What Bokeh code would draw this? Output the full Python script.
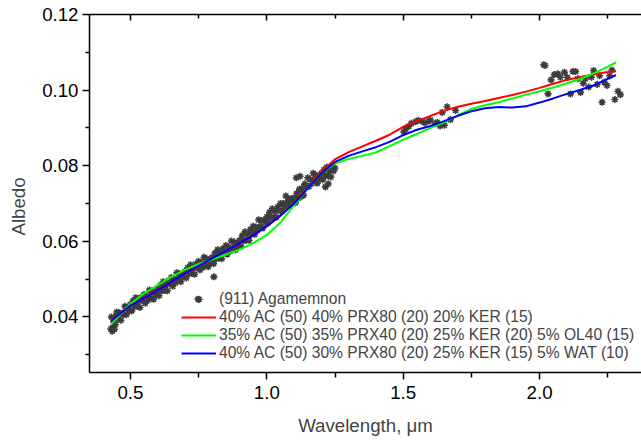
from bokeh.plotting import figure
from bokeh.models import Range1d, LinearAxis, Legend, LegendItem, FixedTicker, NumeralTickFormatter
from bokeh.embed import file_html
from bokeh.resources import INLINE

FONT = "Liberation Sans"

# (911) Agamemnon measured spectrum
agam_wl = [
    0.430, 0.435, 0.440, 0.445,
    0.450, 0.455, 0.460, 0.465, 0.470, 0.475, 0.480, 0.485, 0.490, 0.495,
    0.500, 0.505, 0.510, 0.515, 0.520, 0.525, 0.530, 0.535, 0.540, 0.545,
    0.550, 0.555, 0.560, 0.565, 0.570, 0.575, 0.580, 0.585, 0.590, 0.595,
    0.600, 0.605, 0.610, 0.615, 0.620, 0.625, 0.630, 0.635, 0.640, 0.645,
    0.650, 0.655, 0.660, 0.665, 0.670, 0.675, 0.680, 0.685, 0.690, 0.695,
    0.700, 0.705, 0.710, 0.715, 0.720, 0.725, 0.730, 0.735, 0.740, 0.745,
    0.750, 0.755, 0.760, 0.765, 0.770, 0.775, 0.780, 0.785, 0.790, 0.795,
    0.800, 0.805, 0.810, 0.815, 0.820, 0.825, 0.830, 0.835, 0.840, 0.845,
    0.850, 0.855, 0.860, 0.865, 0.870, 0.875, 0.880, 0.885, 0.890, 0.895,
    0.900, 0.905, 0.910, 0.915, 0.920, 0.925, 0.930, 0.935, 0.940, 0.945,
    0.950, 0.955, 0.960, 0.965, 0.970, 0.975, 0.980, 0.985, 0.990, 0.995,
    1.000, 1.005, 1.010, 1.015, 1.020, 1.025, 1.030, 1.035, 1.040, 1.045,
    1.050, 1.055, 1.060, 1.065, 1.070, 1.075, 1.080, 1.085, 1.090, 1.095,
    1.100, 1.105, 1.110, 1.115, 1.120, 1.125, 1.130, 1.135, 1.140, 1.145,
    1.150, 1.155, 1.160, 1.165, 1.170, 1.175, 1.180, 1.185, 1.190, 1.195,
    1.200, 1.205, 1.210, 1.215, 1.220, 1.225, 1.230, 1.235, 1.240, 1.245, 1.250,
    0.428, 0.433, 0.438, 0.441, 0.447, 0.748, 0.806, 1.108, 1.122, 1.135, 1.215, 1.225,
    1.502, 1.510, 1.520, 1.530, 1.545, 1.555, 1.570, 1.580, 1.594, 1.600,
    1.618, 1.625, 1.635, 1.643, 1.651, 1.661, 1.673, 1.692,
    2.015, 2.020, 2.031, 2.042, 2.054, 2.067, 2.076, 2.091, 2.101, 2.113,
    2.122, 2.132, 2.140, 2.150, 2.160, 2.168, 2.180, 2.190, 2.198, 2.211,
    2.220, 2.229, 2.237, 2.247, 2.257, 2.265, 2.276, 2.287, 2.296,
]
agam_alb = [
    0.0400, 0.0372, 0.0397, 0.0380,
    0.0413, 0.0395, 0.0411, 0.0391, 0.0410, 0.0406, 0.0428, 0.0406, 0.0426, 0.0416,
    0.0433, 0.0416, 0.0443, 0.0428, 0.0451, 0.0428, 0.0442, 0.0425, 0.0452, 0.0442,
    0.0459, 0.0436, 0.0455, 0.0444, 0.0471, 0.0453, 0.0468, 0.0447, 0.0465, 0.0459,
    0.0473, 0.0456, 0.0484, 0.0469, 0.0493, 0.0470, 0.0484, 0.0469, 0.0496, 0.0487,
    0.0504, 0.0481, 0.0501, 0.0490, 0.0517, 0.0499, 0.0514, 0.0493, 0.0512, 0.0506,
    0.0520, 0.0503, 0.0530, 0.0515, 0.0538, 0.0515, 0.0529, 0.0513, 0.0540, 0.0530,
    0.0547, 0.0524, 0.0543, 0.0531, 0.0558, 0.0539, 0.0554, 0.0533, 0.0550, 0.0544,
    0.0558, 0.0541, 0.0569, 0.0554, 0.0578, 0.0555, 0.0569, 0.0554, 0.0581, 0.0572,
    0.0589, 0.0566, 0.0585, 0.0574, 0.0601, 0.0583, 0.0598, 0.0577, 0.0595, 0.0589,
    0.0603, 0.0587, 0.0615, 0.0601, 0.0625, 0.0603, 0.0618, 0.0603, 0.0631, 0.0622,
    0.0640, 0.0618, 0.0638, 0.0629, 0.0657, 0.0639, 0.0655, 0.0635, 0.0655, 0.0650,
    0.0665, 0.0649, 0.0677, 0.0662, 0.0686, 0.0664, 0.0679, 0.0664, 0.0691, 0.0682,
    0.0700, 0.0679, 0.0700, 0.0691, 0.0720, 0.0703, 0.0712, 0.0694, 0.0713, 0.0706,
    0.0715, 0.0702, 0.0727, 0.0714, 0.0738, 0.0718, 0.0735, 0.0722, 0.0752, 0.0745,
    0.0768, 0.0745, 0.0764, 0.0753, 0.0780, 0.0761, 0.0775, 0.0754, 0.0772, 0.0766,
    0.0780, 0.0763, 0.0789, 0.0774, 0.0796, 0.0773, 0.0786, 0.0770, 0.0796, 0.0786, 0.0794,
    0.0368, 0.0362, 0.0388, 0.0367, 0.0403, 0.0447, 0.0506, 0.0768, 0.0772, 0.0745, 0.0744, 0.0752,
    0.0889, 0.0897, 0.0904, 0.0912, 0.0916, 0.0920, 0.0917, 0.0913, 0.0918, 0.0921,
    0.0911, 0.0915, 0.0905, 0.0941, 0.0907, 0.0956, 0.0922, 0.0946,
    0.1067, 0.1065, 0.0990, 0.1027, 0.1041, 0.1043, 0.1034, 0.1047, 0.1034, 0.0990,
    0.1049, 0.1049, 0.1030, 0.0994, 0.1018, 0.1030, 0.1008, 0.1034, 0.1052, 0.1015,
    0.1038, 0.0968, 0.1021, 0.1012, 0.1038, 0.1053, 0.0975, 0.0997, 0.0988,
]

# Model spectra
model_wl = [0.43, 0.50, 0.55, 0.60, 0.65, 0.70, 0.75, 0.80, 0.85, 0.90, 0.95,
            1.00, 1.05, 1.10, 1.15, 1.20, 1.25, 1.30, 1.35, 1.40, 1.45, 1.50,
            1.55, 1.60, 1.65, 1.70, 1.75, 1.80, 1.85, 1.90, 1.95, 2.00, 2.05,
            2.10, 2.15, 2.20, 2.25, 2.28]
red_alb = [0.0392, 0.0430, 0.0451, 0.0472, 0.0494, 0.0515, 0.0534, 0.0553, 0.0574, 0.0595, 0.0617,
           0.0640, 0.0668, 0.0700, 0.0742, 0.0785, 0.0817, 0.0836, 0.0851, 0.0866, 0.0882, 0.0903,
           0.0918, 0.0932, 0.0945, 0.0956, 0.0964, 0.0971, 0.0979, 0.0987, 0.0996, 0.1006, 0.1017,
           0.1027, 0.1035, 0.1042, 0.1048, 0.1050]
green_alb = [0.0381, 0.0435, 0.0462, 0.0484, 0.0506, 0.0525, 0.0540, 0.0552, 0.0565, 0.0578, 0.0595,
             0.0617, 0.0650, 0.0695, 0.0740, 0.0780, 0.0806, 0.0818, 0.0826, 0.0835, 0.0852, 0.0869,
             0.0884, 0.0900, 0.0915, 0.0933, 0.0950, 0.0960, 0.0968, 0.0978, 0.0988, 0.0997, 0.1007,
             0.1018, 0.1030, 0.1045, 0.1062, 0.1073]
blue_alb = [0.0390, 0.0430, 0.0450, 0.0471, 0.0493, 0.0515, 0.0535, 0.0555, 0.0575, 0.0595, 0.0616,
            0.0640, 0.0668, 0.0700, 0.0740, 0.0780, 0.0810, 0.0826, 0.0838, 0.0849, 0.0863, 0.0881,
            0.0895, 0.0905, 0.0918, 0.0932, 0.0944, 0.0952, 0.0955, 0.0954, 0.0957, 0.0967, 0.0978,
            0.0990, 0.1001, 0.1013, 0.1030, 0.1040]

labels = ["(911) Agamemnon",
          "40% AC (50) 40% PRX80 (20) 20% KER (15)",
          "35% AC (50) 35% PRX40 (20) 25% KER (20) 5% OL40 (15)",
          "40% AC (50) 30% PRX80 (20) 25% KER (15) 5% WAT (10)"]

x_major = [0.5, 1.0, 1.5, 2.0]
x_minor = [0.75, 1.25, 1.75, 2.25]
y_major = [0.04, 0.06, 0.08, 0.10, 0.12]
y_minor = [0.03, 0.05, 0.07, 0.09, 0.11]

p = figure(width=641, height=438, output_backend="svg", toolbar_location=None,
           x_range=Range1d(0.35, 2.3735), y_range=Range1d(0.0253, 0.12),
           min_border_left=89, min_border_right=0, min_border_top=14, min_border_bottom=65,
           x_axis_location=None, y_axis_location=None)
p.outline_line_color = None
p.xgrid.visible = False
p.ygrid.visible = False
p.background_fill_color = "white"

def style(ax, tick_in, tick_out, minor_in, minor_out):
    ax.axis_line_color = "black"
    ax.axis_line_width = 1.5
    ax.major_tick_line_color = "black"
    ax.major_tick_line_width = 1.5
    ax.minor_tick_line_color = "black"
    ax.minor_tick_line_width = 1.5
    ax.major_tick_in = tick_in
    ax.major_tick_out = tick_out
    ax.minor_tick_in = minor_in
    ax.minor_tick_out = minor_out
    ax.major_label_text_font = FONT
    ax.major_label_text_font_size = "18.7px"
    ax.major_label_text_color = "black"

xb = LinearAxis(ticker=FixedTicker(ticks=x_major, minor_ticks=x_minor),
                formatter=NumeralTickFormatter(format="0.0"))
style(xb, 0, 7, 0, 5)
xb.major_label_standoff = 6
xb.axis_label = "Wavelength, \u03bcm"
xb.axis_label_text_font = FONT
xb.axis_label_text_font_style = "normal"
xb.axis_label_text_font_size = "18.7px"
xb.axis_label_standoff = 13
p.add_layout(xb, "below")

xt = LinearAxis(ticker=FixedTicker(ticks=x_major, minor_ticks=x_minor))
style(xt, 6, 0, 4, 0)
xt.major_label_overrides = {0.5: "", 1.0: "", 1.5: "", 2.0: ""}
xt.major_label_text_font_size = "1px"
xt.major_label_standoff = 0
p.add_layout(xt, "above")

yl = LinearAxis(ticker=FixedTicker(ticks=y_major, minor_ticks=y_minor),
                formatter=NumeralTickFormatter(format="0.00"))
style(yl, 0, 7, 0, 4)
yl.major_label_standoff = 4
yl.axis_label = "Albedo" + "\u00a0" * 5
yl.axis_label_text_font = FONT
yl.axis_label_text_font_style = "normal"
yl.axis_label_text_font_size = "18.7px"
yl.axis_label_standoff = 10
p.add_layout(yl, "left")

r_pts = p.scatter(agam_wl, agam_alb, marker="asterisk", size=7,
                  line_color="#3c3c3c", line_width=1.6)
r_red = p.line(model_wl, red_alb, line_color="#ff0000", line_width=2)
r_green = p.line(model_wl, green_alb, line_color="#00ff00", line_width=2)
r_blue = p.line(model_wl, blue_alb, line_color="#0000ff", line_width=2)

legend = Legend(items=[LegendItem(label=labels[0], renderers=[r_pts]),
                       LegendItem(label=labels[1], renderers=[r_red]),
                       LegendItem(label=labels[2], renderers=[r_green]),
                       LegendItem(label=labels[3], renderers=[r_blue])],
                location=(92, 10), border_line_color=None, background_fill_alpha=0,
                padding=0, margin=0, spacing=0, glyph_width=35, glyph_height=18,
                label_height=18, label_standoff=3,
                label_text_font=FONT, label_text_font_size="15.6px")
p.add_layout(legend)

open("out.html", "w").write(file_html(p, INLINE))
